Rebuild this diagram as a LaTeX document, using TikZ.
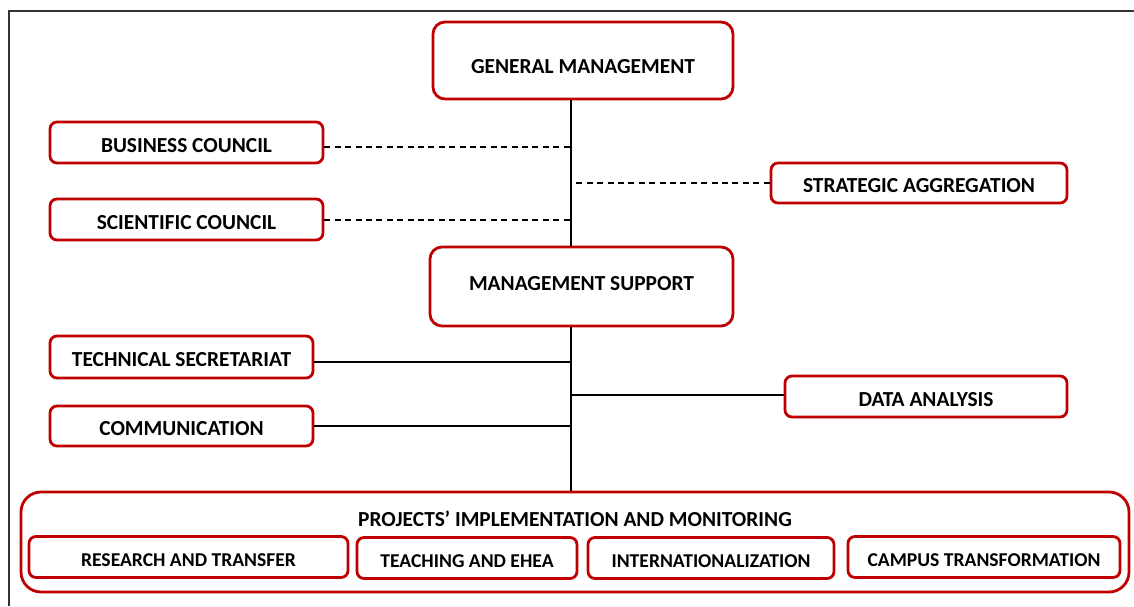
\documentclass[tikz,border=0pt]{standalone}
\usepackage{fontspec}
\setmainfont{Carlito}
\definecolor{boxred}{HTML}{C00000}

\begin{document}
\begin{tikzpicture}[x=0.5pt,y=-0.5pt,
    unit/.style={draw=boxred,line width=1.4pt,rounded corners=3.5pt,fill=white,inner sep=0pt,text height=9.9pt,text depth=0pt,font=\bfseries\fontsize{10.7}{12}\selectfont},
    board/.style={unit,rounded corners=6pt},
    project/.style={unit,text height=9.5pt,font=\bfseries\fontsize{9.8}{11}\selectfont},
    link/.style={line width=0.9pt},
    advice/.style={line width=1pt,dashed,dash pattern=on 3pt off 2.2pt}]
      \useasboundingbox (0,0) rectangle (1134,606);
      \draw[line width=0.6pt,black!80] (9,606) -- (9,11) -- (1134,11);
      \coordinate (spine) at (571,0);
      \node[board,text height=12.9pt,minimum width=150pt,minimum height=38.5pt] (gm) at (583,60.5) {GENERAL MANAGEMENT};
      \node[unit,minimum width=136.5pt,minimum height=20.5pt] (bc) at (186.5,142.5) {BUSINESS COUNCIL};
      \node[unit,minimum width=136.5pt,minimum height=20.5pt] (sc) at (186.5,219.5) {SCIENTIFIC COUNCIL};
      \node[unit,minimum width=148pt,minimum height=20pt] (sa) at (919,183) {STRATEGIC AGGREGATION};
      \node[board,text height=4.4pt,minimum width=151.5pt,minimum height=39.5pt] (ms) at (581.5,286.5) {MANAGEMENT SUPPORT};
      \node[unit,minimum width=131.5pt,minimum height=21pt] (ts) at (181.5,357) {TECHNICAL SECRETARIAT};
      \node[unit,minimum width=131.5pt,minimum height=20pt] (co) at (181.5,426) {COMMUNICATION};
      \node[unit,minimum width=141pt,minimum height=20.5pt] (da) at (926,396.5) {DATA ANALYSIS};
      \node[unit,rounded corners=10pt,minimum width=554pt,minimum height=50pt] (pim) at (575,542) {};
      \node[font=\bfseries\fontsize{10.7}{12}\selectfont,inner sep=0pt] (pimtitle) at (575,519) {PROJECTS’ IMPLEMENTATION AND MONITORING};
      \node[project,minimum width=159.5pt,minimum height=20.5pt] (rt) at (188.5,557) {RESEARCH AND TRANSFER};
      \node[project,minimum width=110pt,minimum height=20.5pt] (te) at (467,558) {TEACHING AND EHEA};
      \node[project,minimum width=123pt,minimum height=20.5pt] (in) at (711,558) {INTERNATIONALIZATION};
      \node[project,minimum width=136pt,minimum height=20.5pt] (ct) at (984,557) {CAMPUS TRANSFORMATION};
      % trunk
      \draw[link] (gm.south -| spine) -- (ms.north -| spine);
      \draw[link] (ms.south -| spine) -- (pim.north -| spine);
      % councils
      \draw[advice] ([yshift=-2pt]bc.east) -- ([yshift=-2pt]bc.east -| spine);
      \draw[advice] (sc.east) -- (sc.east -| spine);
      \draw[advice] (sa.west) -- (sa.west -| spine);
      % support units
      \draw[link] ([yshift=-2.5pt]ts.east) -- ([yshift=-2.5pt]ts.east -| spine);
      \draw[link] (co.east) -- (co.east -| spine);
      \draw[link] ([yshift=0.7pt]da.west) -- ([yshift=0.7pt]da.west -| spine);
    \end{tikzpicture}
\end{document}
